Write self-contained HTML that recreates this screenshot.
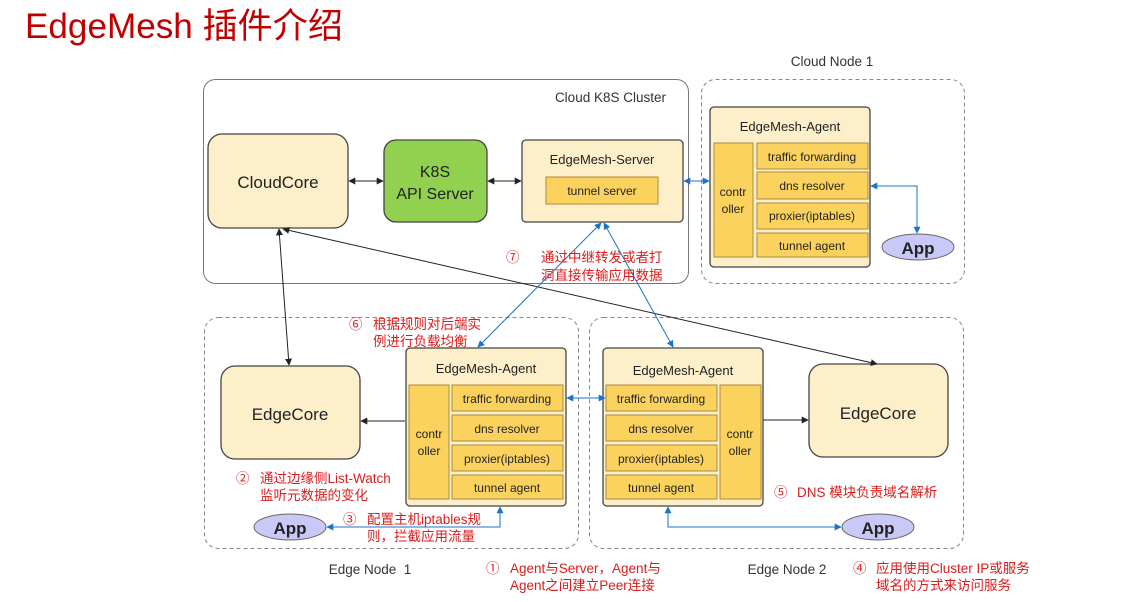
<!DOCTYPE html>
<html><head><meta charset="utf-8"><style>
html,body{margin:0;padding:0;background:#fff;width:1146px;height:602px;overflow:hidden}
svg{display:block}
text{font-family:"Liberation Sans","Noto Sans CJK SC",sans-serif}
</style></head><body>
<svg width="1146" height="602" viewBox="0 0 1146 602" xmlns="http://www.w3.org/2000/svg">
<defs>
<marker id="ak" viewBox="0 0 10 10" refX="9" refY="5" markerWidth="7" markerHeight="7" orient="auto-start-reverse"><path d="M0,0L10,5L0,10z" fill="#222"/></marker>
<marker id="ab" viewBox="0 0 10 10" refX="9" refY="5" markerWidth="7" markerHeight="7" orient="auto-start-reverse"><path d="M0,0L10,5L0,10z" fill="#1a75c8"/></marker>
</defs>
<text x="25" y="38" font-size="35" fill="#c00000" textLength="318" lengthAdjust="spacingAndGlyphs">EdgeMesh 插件介绍</text>

<!-- containers -->
<rect x="203.5" y="79.5" width="485" height="204" rx="12" fill="none" stroke="#777"/>
<text x="666" y="102" font-size="13.5" fill="#333" text-anchor="end">Cloud K8S Cluster</text>
<rect x="701.5" y="79.5" width="263" height="204" rx="14" fill="none" stroke="#888" stroke-dasharray="4,3"/>
<text x="832" y="66" font-size="13.5" fill="#333" text-anchor="middle">Cloud Node 1</text>
<rect x="204.5" y="317.5" width="374" height="231" rx="14" fill="none" stroke="#888" stroke-dasharray="4,3"/>
<text x="370" y="574" font-size="13.5" fill="#333" text-anchor="middle">Edge Node&#160;&#160;1</text>
<rect x="589.5" y="317.5" width="374" height="231" rx="14" fill="none" stroke="#888" stroke-dasharray="4,3"/>
<text x="787" y="574" font-size="13.5" fill="#333" text-anchor="middle">Edge Node 2</text>

<!-- cloud nodes -->
<rect x="208" y="134" width="140" height="94" rx="14" fill="#fdefc9" stroke="#444" stroke-width="1.3"/>
<text x="278" y="188" font-size="17" fill="#222" text-anchor="middle">CloudCore</text>
<rect x="384" y="140" width="103" height="82" rx="12" fill="#92d050" stroke="#444" stroke-width="1.3"/>
<text x="435" y="177" font-size="16" fill="#222" text-anchor="middle">K8S</text>
<text x="435" y="199" font-size="16" fill="#222" text-anchor="middle">API Server</text>
<rect x="522" y="140" width="161" height="82" rx="4" fill="#fdefc9" stroke="#444" stroke-width="1.3"/>
<text x="602" y="164" font-size="13" fill="#222" text-anchor="middle">EdgeMesh-Server</text>
<rect x="546" y="177" width="112" height="27" fill="#fcd25e" stroke="#aa8a3a"/>
<text x="602" y="195" font-size="12" fill="#222" text-anchor="middle">tunnel server</text>

<!-- agent cloud -->
<g>
<rect x="710" y="107" width="160" height="160" rx="4" fill="#fdefc9" stroke="#444" stroke-width="1.3"/>
<text x="790" y="131" font-size="13" fill="#222" text-anchor="middle">EdgeMesh-Agent</text>
<rect x="714" y="143" width="39" height="114" fill="#fcd25e" stroke="#aa8a3a"/>
<text x="733" y="196" font-size="12" fill="#222" text-anchor="middle">contr</text>
<text x="733" y="213" font-size="12" fill="#222" text-anchor="middle">oller</text>
<rect x="757" y="143" width="111" height="26" fill="#fcd25e" stroke="#aa8a3a"/><text x="812" y="161" font-size="12" fill="#222" text-anchor="middle">traffic forwarding</text>
<rect x="757" y="172" width="111" height="27" fill="#fcd25e" stroke="#aa8a3a"/><text x="812" y="190" font-size="12" fill="#222" text-anchor="middle">dns resolver</text>
<rect x="757" y="203" width="111" height="26" fill="#fcd25e" stroke="#aa8a3a"/><text x="812" y="220" font-size="12" fill="#222" text-anchor="middle">proxier(iptables)</text>
<rect x="757" y="233" width="111" height="24" fill="#fcd25e" stroke="#aa8a3a"/><text x="812" y="250" font-size="12" fill="#222" text-anchor="middle">tunnel agent</text>
</g>
<ellipse cx="918" cy="247" rx="36" ry="13" fill="#c9c9f7" stroke="#666"/>
<text x="918" y="254" font-size="17" font-weight="bold" fill="#222" text-anchor="middle">App</text>

<!-- edge node 1 -->
<rect x="221" y="366" width="139" height="93" rx="14" fill="#fdefc9" stroke="#444" stroke-width="1.3"/>
<text x="290" y="420" font-size="17" fill="#222" text-anchor="middle">EdgeCore</text>
<rect x="406" y="348" width="160" height="158" rx="4" fill="#fdefc9" stroke="#444" stroke-width="1.3"/>
<text x="486" y="373" font-size="13" fill="#222" text-anchor="middle">EdgeMesh-Agent</text>
<rect x="409" y="385" width="40" height="114" fill="#fcd25e" stroke="#aa8a3a"/>
<text x="429" y="438" font-size="12" fill="#222" text-anchor="middle">contr</text>
<text x="429" y="455" font-size="12" fill="#222" text-anchor="middle">oller</text>
<rect x="452" y="385" width="111" height="26" fill="#fcd25e" stroke="#aa8a3a"/><text x="507" y="403" font-size="12" fill="#222" text-anchor="middle">traffic forwarding</text>
<rect x="452" y="415" width="111" height="26" fill="#fcd25e" stroke="#aa8a3a"/><text x="507" y="433" font-size="12" fill="#222" text-anchor="middle">dns resolver</text>
<rect x="452" y="445" width="111" height="26" fill="#fcd25e" stroke="#aa8a3a"/><text x="507" y="463" font-size="12" fill="#222" text-anchor="middle">proxier(iptables)</text>
<rect x="452" y="475" width="111" height="24" fill="#fcd25e" stroke="#aa8a3a"/><text x="507" y="492" font-size="12" fill="#222" text-anchor="middle">tunnel agent</text>
<ellipse cx="290" cy="527" rx="36" ry="13" fill="#c9c9f7" stroke="#666"/>
<text x="290" y="534" font-size="17" font-weight="bold" fill="#222" text-anchor="middle">App</text>

<!-- edge node 2 -->
<rect x="809" y="364" width="139" height="93" rx="14" fill="#fdefc9" stroke="#444" stroke-width="1.3"/>
<text x="878" y="419" font-size="17" fill="#222" text-anchor="middle">EdgeCore</text>
<rect x="603" y="348" width="160" height="158" rx="4" fill="#fdefc9" stroke="#444" stroke-width="1.3"/>
<text x="683" y="375" font-size="13" fill="#222" text-anchor="middle">EdgeMesh-Agent</text>
<rect x="720" y="385" width="41" height="114" fill="#fcd25e" stroke="#aa8a3a"/>
<text x="740" y="438" font-size="12" fill="#222" text-anchor="middle">contr</text>
<text x="740" y="455" font-size="12" fill="#222" text-anchor="middle">oller</text>
<rect x="606" y="385" width="111" height="26" fill="#fcd25e" stroke="#aa8a3a"/><text x="661" y="403" font-size="12" fill="#222" text-anchor="middle">traffic forwarding</text>
<rect x="606" y="415" width="111" height="26" fill="#fcd25e" stroke="#aa8a3a"/><text x="661" y="433" font-size="12" fill="#222" text-anchor="middle">dns resolver</text>
<rect x="606" y="445" width="111" height="26" fill="#fcd25e" stroke="#aa8a3a"/><text x="661" y="463" font-size="12" fill="#222" text-anchor="middle">proxier(iptables)</text>
<rect x="606" y="475" width="111" height="24" fill="#fcd25e" stroke="#aa8a3a"/><text x="661" y="492" font-size="12" fill="#222" text-anchor="middle">tunnel agent</text>
<ellipse cx="878" cy="527" rx="36" ry="13" fill="#c9c9f7" stroke="#666"/>
<text x="878" y="534" font-size="17" font-weight="bold" fill="#222" text-anchor="middle">App</text>

<!-- black connectors -->
<g stroke="#222" stroke-width="1" fill="none">
<line x1="349" y1="181" x2="383" y2="181" marker-start="url(#ak)" marker-end="url(#ak)"/>
<line x1="488" y1="181" x2="521" y2="181" marker-start="url(#ak)" marker-end="url(#ak)"/>
<line x1="279" y1="229" x2="289" y2="365" marker-start="url(#ak)" marker-end="url(#ak)"/>
<line x1="283" y1="229" x2="877" y2="364" marker-start="url(#ak)" marker-end="url(#ak)"/>
<line x1="405" y1="421" x2="361" y2="421" marker-end="url(#ak)"/>
<line x1="763" y1="420" x2="808" y2="420" marker-end="url(#ak)"/>
</g>
<!-- blue connectors -->
<g stroke="#1a75c8" stroke-width="1" fill="none">
<line x1="684" y1="181" x2="709" y2="181" marker-start="url(#ab)" marker-end="url(#ab)"/>
<polyline points="871,186 917,186 917,233" marker-start="url(#ab)" marker-end="url(#ab)"/>
<line x1="601" y1="223" x2="478" y2="347" marker-start="url(#ab)" marker-end="url(#ab)"/>
<line x1="604" y1="223" x2="673" y2="347" marker-start="url(#ab)" marker-end="url(#ab)"/>
<line x1="567" y1="398" x2="605" y2="398" marker-start="url(#ab)" marker-end="url(#ab)"/>
<polyline points="500,507 500,527 327,527" marker-start="url(#ab)" marker-end="url(#ab)"/>
<polyline points="668,507 668,527 841,527" marker-start="url(#ab)" marker-end="url(#ab)"/>
</g>

<!-- red annotations -->
<g font-size="13.5" fill="#d81e1e">
<text x="506" y="262">⑦</text>
<text x="541" y="262">通过中继转发或者打</text>
<text x="541" y="280">洞直接传输应用数据</text>
<text x="349" y="329">⑥</text>
<text x="373" y="329">根据规则对后端实</text>
<text x="373" y="346">例进行负载均衡</text>
<text x="236" y="483">②</text>
<text x="260" y="483">通过边缘侧List-Watch</text>
<text x="260" y="500">监听元数据的变化</text>
<text x="343" y="524">③</text>
<text x="367" y="524">配置主机iptables规</text>
<text x="367" y="541">则，拦截应用流量</text>
<text x="486" y="573">①</text>
<text x="510" y="573">Agent与Server，Agent与</text>
<text x="510" y="590">Agent之间建立Peer连接</text>
<text x="774" y="497">⑤</text>
<text x="797" y="497">DNS 模块负责域名解析</text>
<text x="853" y="573">④</text>
<text x="876" y="573">应用使用Cluster IP或服务</text>
<text x="876" y="590">域名的方式来访问服务</text>
</g>
</svg>
</body></html>
